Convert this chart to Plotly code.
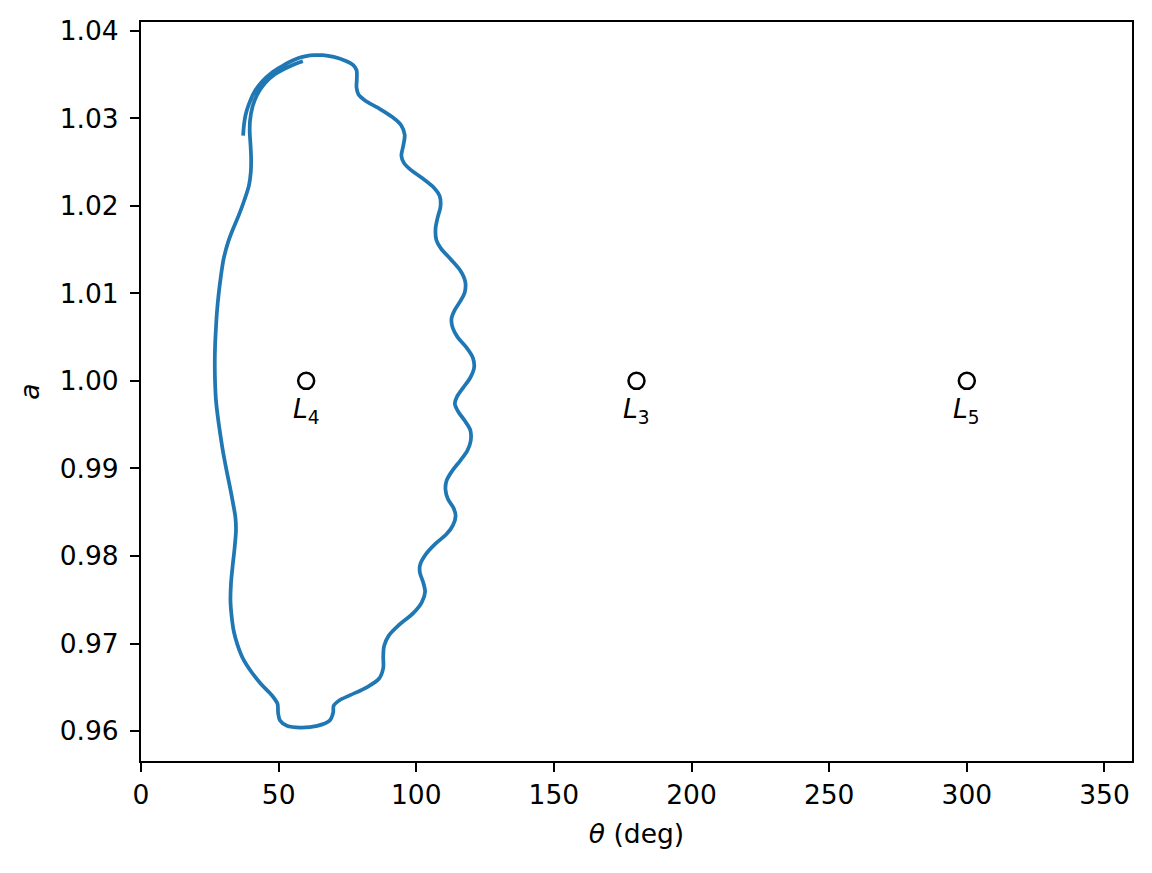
import plotly.graph_objects as go

# Orbit trace (theta in deg, semi-major axis a)
theta = [37.1, 37.4, 38.0, 39.2, 41.0, 44.0, 47.5, 51.0, 54.5, 57.5, 60.0, 63.0, 66.0, 70.0, 74.0, 77.0, 78.3,
         78.4, 78.3, 79.0, 81.5, 86.0, 91.0, 94.5, 95.8, 95.3, 94.6, 95.5, 98.0, 102.0, 106.0, 108.5, 108.8,
         107.8, 107.0, 107.3, 109.0, 112.5, 116.0, 117.8, 117.6, 116.0, 114.0, 112.8, 113.2, 115.0, 118.0,
         120.6, 121.0, 119.5, 117.0, 114.8, 114.0, 115.2, 117.5, 119.6, 119.8, 118.5, 116.0, 113.0, 111.0,
         110.6, 111.5, 113.5, 114.3, 113.3, 111.0, 107.0, 103.5, 101.4, 101.3, 102.5, 103.2, 102.0, 99.0,
         94.0, 90.0, 88.3, 88.0, 88.0, 86.5, 82.0, 76.0, 72.0, 70.0, 69.8, 68.5, 64.0, 58.0, 53.0, 50.5,
         49.8, 49.6, 47.5, 43.5, 40.0, 37.0, 35.0, 33.7, 33.0, 32.5, 32.7, 33.3, 34.0, 34.5, 34.3, 33.5,
         32.3, 31.0, 29.8, 28.8, 27.9, 27.2, 26.9, 26.8, 26.9, 27.2, 27.6, 28.2, 29.0, 30.0, 31.7, 33.5,
         35.5, 37.5, 39.2, 39.9, 40.0, 39.8, 39.5, 39.6, 40.5, 42.2, 45.0, 48.5, 52.5, 56.0, 58.8]
a = [1.0280, 1.0292, 1.0304, 1.0316, 1.0329, 1.0342, 1.0352, 1.0359, 1.0365, 1.0369, 1.0371, 1.0372, 1.0372,
     1.0370, 1.0366, 1.0361, 1.0355, 1.0345, 1.0335, 1.0327, 1.0320, 1.0312, 1.0302, 1.0292, 1.0281, 1.0269,
     1.0257, 1.0249, 1.0241, 1.0232, 1.0222, 1.0211, 1.0199, 1.0187, 1.0174, 1.0161, 1.0151, 1.0139, 1.0126,
     1.0113, 1.0101, 1.0091, 1.0081, 1.0071, 1.0061, 1.0050, 1.0039, 1.0026, 1.0015, 1.0003, 0.9992, 0.9982,
     0.9974, 0.9965, 0.9955, 0.9944, 0.9932, 0.9920, 0.9909, 0.9897, 0.9886, 0.9876, 0.9865, 0.9855, 0.9846,
     0.9835, 0.9825, 0.9814, 0.9802, 0.9790, 0.9781, 0.9770, 0.9759, 0.9747, 0.9735, 0.9722, 0.9709, 0.9697,
     0.9685, 0.9672, 0.9660, 0.9650, 0.9641, 0.9635, 0.9629, 0.9621, 0.9612, 0.9606, 0.9604, 0.9606, 0.9612,
     0.9621, 0.9631, 0.9641, 0.9654, 0.9668, 0.9683, 0.9699, 0.9714, 0.9729, 0.9749, 0.9769, 0.9789, 0.9809,
     0.9829, 0.9844, 0.9859, 0.9879, 0.9899, 0.9919, 0.9939, 0.9959, 0.9979, 0.9999, 1.0019, 1.0039, 1.0059,
     1.0079, 1.0099, 1.0119, 1.0139, 1.0159, 1.0174, 1.0189, 1.0206, 1.0223, 1.0239, 1.0254, 1.0269, 1.0284,
     1.0297, 1.0313, 1.0327, 1.0340, 1.0350, 1.0357, 1.0362, 1.0365]

# Lagrange points
lp_theta = [60, 180, 300]
lp_a = [1.0, 1.0, 1.0]
lp_names = ["4", "3", "5"]
label_a = 0.9966

x_ticks = [0, 50, 100, 150, 200, 250, 300, 350]
y_ticks = [0.96, 0.97, 0.98, 0.99, 1.00, 1.01, 1.02, 1.03, 1.04]

FONT = "DejaVu Sans"
FS = 26.5

fig = go.Figure()
fig.add_trace(go.Scatter(x=theta, y=a, mode="lines",
                         line=dict(color="#1f77b4", width=3.75, shape="spline", smoothing=0.9),
                         showlegend=False))
fig.add_trace(go.Scatter(x=lp_theta, y=lp_a, mode="markers",
                         marker=dict(symbol="circle", size=16, color="rgba(0,0,0,0)",
                                     line=dict(color="black", width=2.5)),
                         showlegend=False))
for t, n in zip(lp_theta, lp_names):
    fig.add_annotation(x=t, y=label_a, xref="x", yref="y", showarrow=False,
                       text=f"<i>L</i><sub>{n}</sub>",
                       font=dict(family=FONT, size=FS, color="black"))

axis_common = dict(showgrid=False, zeroline=False, showline=True, linecolor="black",
                   linewidth=2, mirror=True, ticks="outside", ticklen=9, tickwidth=2,
                   tickcolor="black", automargin=False,
                   tickfont=dict(family=FONT, size=FS, color="black"))

fig.update_xaxes(range=[0, 360], tickvals=x_ticks, ticktext=[str(v) for v in x_ticks],
                 title=dict(text="<i>θ</i> (deg)", font=dict(family=FONT, size=FS, color="black"),
                            standoff=16),
                 **axis_common)
fig.update_yaxes(range=[0.95658, 1.04099], tickvals=y_ticks,
                 ticktext=[f"{v:.2f}" for v in y_ticks],
                 ticklabelstandoff=6,
                 title=dict(text="<i>a</i>", font=dict(family=FONT, size=FS, color="black"),
                            standoff=12),
                 **axis_common)

fig.update_layout(width=1152, height=873, plot_bgcolor="white", paper_bgcolor="white",
                  margin=dict(l=133, r=28, t=14, b=120, pad=0),
                  font=dict(family=FONT, size=FS, color="black"))

fig.write_html("out.html")
